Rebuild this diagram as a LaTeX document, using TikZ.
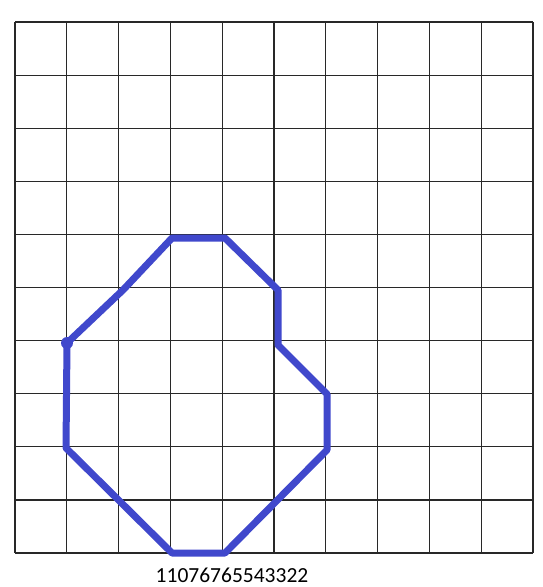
\documentclass[tikz,border=0pt]{standalone}
\usepackage{fontspec}
\setmainfont{Carlito}
\definecolor{blob}{RGB}{64,72,204}
\definecolor{gridc}{RGB}{40,40,40}
\begin{document}
\begin{tikzpicture}[x=1pt,y=-1pt,
  gridline/.style={draw=gridc,line width=1.2pt},
  outline/.style={draw=blob,line width=7pt,line join=round},
  caption/.style={font=\fontsize{21.5}{25}\selectfont,inner sep=0pt,text=black}]
\useasboundingbox (0,0) rectangle (542,587);
% grid
\foreach \i in {0,...,10} {
  \draw[gridline] ({15+51.8*\i},22) -- ({15+51.8*\i},553);
  \draw[gridline] (15,{22+53.1*\i}) -- (533,{22+53.1*\i});
}
% vertices
\coordinate (p1) at (172,238);
\coordinate (p2) at (225,238);
\coordinate (p3) at (278,290);
\coordinate (p4) at (278,345);
\coordinate (p5) at (327,394);
\coordinate (p6) at (327,450);
\coordinate (p7) at (225,553);
\coordinate (p8) at (172,553);
\coordinate (p9) at (66,448);
\coordinate (p10) at (67,343);
\coordinate (p11) at (123,290);
\draw[outline] (p1) -- (p2) -- (p3) -- (p4) -- (p5) -- (p6) -- (p7) -- (p8) -- (p9) -- (p10) -- (p11) -- cycle;
\fill[blob] (p10) circle (6pt);
\node[caption] (cap) at (232,575) {11076765543322};
\end{tikzpicture}
\end{document}
